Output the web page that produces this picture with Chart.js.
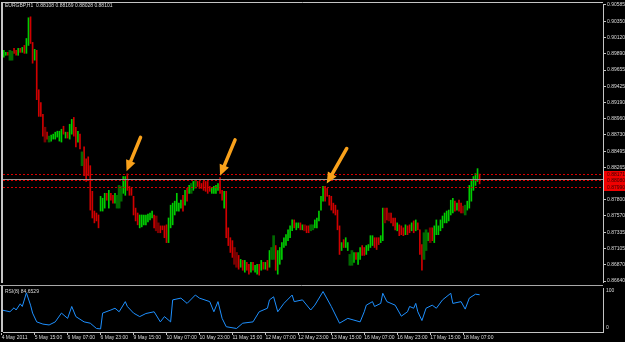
<!DOCTYPE html>
<html lang="en">
<head>
<meta charset="UTF-8">
<title>EURGBP,H1</title>
<script src="https://cdn.jsdelivr.net/npm/chart.js"></script>
<style>
  html, body { margin: 0; padding: 0; background: #000; }
  #wrap { position: relative; width: 625px; height: 342px; overflow: hidden; background: #000; }
  canvas { position: absolute; left: 0; }
  #mainChart { top: 0; }
  #rsiChart { top: 286px; }
</style>
</head>
<body>
<div id="wrap">
  <canvas id="mainChart" width="625" height="286"></canvas>
  <canvas id="rsiChart" width="625" height="56"></canvas>
</div>
<script>
// H1 bars, bar 0 = 4 May 2011 23:00, so bar 1 is the first one drawn
const highs = [
  0.89937, 0.89908, 0.89908, 0.89937, 0.89923, 0.89965, 0.89937, 0.89965, 0.89965, 0.89979,
  0.90007, 0.90106, 0.90402, 0.90416, 0.90050, 0.89951, 0.89937, 0.89373, 0.89190, 0.89021,
  0.88838, 0.88767, 0.88711, 0.88725, 0.88739, 0.88767, 0.88781, 0.88781, 0.88809, 0.88852,
  0.88767, 0.88767, 0.88880, 0.88950, 0.88978, 0.88838, 0.88781, 0.88739, 0.88485, 0.88556,
  0.88387, 0.88415, 0.88288, 0.87922, 0.87640, 0.87612, 0.87584, 0.87851, 0.87823, 0.87893,
  0.87893, 0.87936, 0.87893, 0.87865, 0.87893, 0.87865, 0.88006, 0.87992, 0.88133, 0.88133,
  0.88172, 0.87992, 0.87964, 0.87851, 0.87682, 0.87612, 0.87584, 0.87584, 0.87584, 0.87584,
  0.87598, 0.87612, 0.87640, 0.87584, 0.87569, 0.87471, 0.87428, 0.87428, 0.87428, 0.87443,
  0.87541, 0.87724, 0.87753, 0.87781, 0.87893, 0.87753, 0.87795, 0.87865, 0.87936, 0.87964,
  0.88006, 0.88034, 0.88063, 0.88077, 0.88063, 0.88063, 0.88034, 0.88063, 0.88063, 0.88063,
  0.87992, 0.87964, 0.87992, 0.88006, 0.88034, 0.88119, 0.87936, 0.87922, 0.87922, 0.87400,
  0.87259, 0.87217, 0.87119, 0.87048, 0.87006, 0.86949, 0.86935, 0.86935, 0.86907, 0.86879,
  0.86907, 0.86907, 0.86865, 0.86879, 0.86879, 0.86935, 0.86907, 0.86907, 0.86935, 0.87076,
  0.87119, 0.87288, 0.87147, 0.87076, 0.87119, 0.87189, 0.87259, 0.87302, 0.87372, 0.87428,
  0.87513, 0.87513, 0.87471, 0.87471, 0.87471, 0.87443, 0.87443, 0.87428, 0.87428, 0.87443,
  0.87443, 0.87513, 0.87541, 0.87640, 0.87851, 0.87992, 0.87992, 0.87964, 0.87865, 0.87851,
  0.87753, 0.87724, 0.87654, 0.87428, 0.87189, 0.87231, 0.87259, 0.87189, 0.87020, 0.87076,
  0.87048, 0.87048, 0.87048, 0.87119, 0.87147, 0.87119, 0.87147, 0.87161, 0.87288, 0.87288,
  0.87259, 0.87259, 0.87259, 0.87288, 0.87682, 0.87682, 0.87682, 0.87612, 0.87612, 0.87541,
  0.87541, 0.87471, 0.87443, 0.87428, 0.87400, 0.87443, 0.87428, 0.87443, 0.87471, 0.87499,
  0.87513, 0.87471, 0.87372, 0.87161, 0.87330, 0.87372, 0.87330, 0.87400, 0.87400, 0.87428,
  0.87513, 0.87428, 0.87513, 0.87569, 0.87612, 0.87640, 0.87654, 0.87795, 0.87823, 0.87781,
  0.87753, 0.87795, 0.87753, 0.87710, 0.87724, 0.87781, 0.88006, 0.88077, 0.88133, 0.88175,
  0.88246, 0.88169
];
const lows = [
  0.89838, 0.89866, 0.89866, 0.89796, 0.89796, 0.89894, 0.89866, 0.89866, 0.89908, 0.89908,
  0.89894, 0.89894, 0.90007, 0.90035, 0.89753, 0.89796, 0.89232, 0.88993, 0.88993, 0.88711,
  0.88626, 0.88668, 0.88626, 0.88640, 0.88668, 0.88668, 0.88697, 0.88640, 0.88626, 0.88739,
  0.88683, 0.88683, 0.88668, 0.88739, 0.88711, 0.88556, 0.88626, 0.88528, 0.88288, 0.88147,
  0.88063, 0.88147, 0.87654, 0.87541, 0.87471, 0.87499, 0.87400, 0.87640, 0.87640, 0.87682,
  0.87795, 0.87682, 0.87795, 0.87753, 0.87753, 0.87682, 0.87682, 0.87781, 0.87893, 0.87865,
  0.87936, 0.87865, 0.87865, 0.87584, 0.87499, 0.87443, 0.87400, 0.87414, 0.87443, 0.87443,
  0.87485, 0.87513, 0.87541, 0.87400, 0.87358, 0.87330, 0.87330, 0.87372, 0.87259, 0.87189,
  0.87189, 0.87400, 0.87443, 0.87584, 0.87640, 0.87640, 0.87682, 0.87640, 0.87724, 0.87781,
  0.87893, 0.87893, 0.87936, 0.87964, 0.87992, 0.87964, 0.87964, 0.87936, 0.87922, 0.87893,
  0.87922, 0.87893, 0.87893, 0.87893, 0.87936, 0.87893, 0.87795, 0.87682, 0.87259, 0.87147,
  0.87048, 0.86978, 0.86879, 0.86837, 0.86809, 0.86837, 0.86794, 0.86766, 0.86794, 0.86738,
  0.86766, 0.86794, 0.86766, 0.86738, 0.86724, 0.86794, 0.86809, 0.86809, 0.86794, 0.86837,
  0.86949, 0.86949, 0.86794, 0.86738, 0.86879, 0.86949, 0.87119, 0.87147, 0.87217, 0.87259,
  0.87358, 0.87400, 0.87372, 0.87400, 0.87372, 0.87372, 0.87358, 0.87330, 0.87330, 0.87358,
  0.87372, 0.87400, 0.87400, 0.87499, 0.87654, 0.87781, 0.87781, 0.87851, 0.87724, 0.87654,
  0.87612, 0.87584, 0.87372, 0.87020, 0.87076, 0.87119, 0.87119, 0.87076, 0.86865, 0.86865,
  0.86907, 0.86949, 0.86879, 0.86949, 0.87006, 0.87006, 0.87020, 0.87076, 0.87119, 0.87147,
  0.87119, 0.87090, 0.87161, 0.87189, 0.87217, 0.87471, 0.87513, 0.87499, 0.87471, 0.87428,
  0.87372, 0.87358, 0.87288, 0.87302, 0.87288, 0.87302, 0.87302, 0.87330, 0.87358, 0.87330,
  0.87358, 0.87372, 0.87020, 0.86794, 0.86949, 0.87076, 0.87217, 0.87189, 0.87217, 0.87189,
  0.87302, 0.87302, 0.87358, 0.87400, 0.87471, 0.87471, 0.87499, 0.87584, 0.87612, 0.87640,
  0.87654, 0.87640, 0.87612, 0.87612, 0.87584, 0.87654, 0.87682, 0.87781, 0.87936, 0.88006,
  0.88063, 0.88028
];
// g up bar, r down bar, G / R the darker heavy bars
const barKind = [
  'ggrGGrrgrg', 'rggrrgrrrr', 'RrGggggggr', 'grggrrgrGr', 'rrrrrrrggg',
  'rgrrgGGGgg', 'rrrrrrgggg', 'gggrRRrrrr', 'gggggggrgr', 'gGgGrrrrrr',
  'rggggrrgrr', 'rrRRrgrgrr', 'grggrgrgrg', 'GGrggggggg', 'grggrgRrrG',
  'Ggggggrrrr', 'rrrrgrggGG', 'grggrrgggg', 'rrrggRrRrr', 'rgrrrgrrgr',
  'grrrGGgRrg', 'gggggggggr', 'grrRGggggg', 'gr'
].join('');

// RSI(8), at a selection of bars
const rsiBar = [
  0, 4, 6, 7, 9, 10, 12, 14, 15, 17,
  20, 23, 26, 29, 32, 34, 36, 40, 43, 46,
  48, 49, 53, 55, 57, 60, 61, 64, 67, 70,
  74, 77, 79, 82, 83, 87, 90, 94, 96, 101,
  103, 105, 107, 109, 114, 117, 122, 125, 129, 130,
  132, 134, 137, 141, 142, 146, 150, 152, 156, 160,
  164, 168, 171, 174, 176, 177, 180, 181, 184, 185,
  187, 189, 191, 194, 197, 198, 200, 201, 202, 204,
  206, 209, 211, 214, 218, 219, 223, 225, 227, 230,
  232
];
const rsiVal = [
  50, 46, 55, 50, 64, 58, 89, 61, 43, 23,
  18, 16, 23, 43, 31, 58, 35, 23, 20, 8,
  7, 43, 50, 54, 46, 69, 58, 43, 35, 42,
  46, 23, 35, 23, 73, 77, 65, 84, 77, 69,
  46, 69, 31, 12, 8, 20, 23, 46, 54, 73,
  80, 46, 65, 84, 69, 73, 50, 61, 92, 58,
  20, 31, 27, 23, 46, 61, 69, 58, 65, 88,
  69, 65, 61, 36, 46, 58, 54, 65, 46, 26,
  54, 61, 54, 73, 88, 65, 69, 52, 77, 86,
  84.65
];

const timeLabels = ['4 May 2011', '5 May 15:00', '6 May 07:00', '6 May 23:00', '9 May 15:00',
  '10 May 07:00', '10 May 23:00', '11 May 15:00', '12 May 07:00', '12 May 23:00',
  '13 May 15:00', '16 May 07:00', '16 May 23:00', '17 May 15:00', '18 May 07:00'];
const tickBars = [0, 16, 32, 48, 64, 80, 96, 112, 128, 144, 160, 176, 192, 208, 224];

const priceTicks = [0.90585, 0.90350, 0.90120, 0.89890, 0.89655, 0.89425, 0.89190, 0.88960,
  0.88730, 0.88495, 0.88265, 0.87800, 0.87570, 0.87335, 0.87105, 0.86870, 0.86640];

const symbol = 'EURGBP,H1';
const lastOHLC = [0.88108, 0.88169, 0.88028, 0.88101];
const bidPrice = 0.88101;
const levels = [0.88171, 0.88080, 0.87990];
// arrow tips: bar index and price
const arrowBar = [60.6, 106, 157.8];
const arrowPrice = [0.88207, 0.88143, 0.88034];
const rsiName = 'RSI(8)';
const rsiLast = 84.6529;

// visible range
const xMin = 0.63, xMax = 291.9;
const yMin = 0.86626, yMax = 0.90599;

const FONT = '"Liberation Sans", Arial, sans-serif';
const TXT = '#dcdcdc';
const FRAME = '#c4c4c4';
const kindColor = { g: '#00cc00', r: '#d00000', G: '#006a00', R: '#7a0000' };
const arrowTail = [[14, -34], [15, -36], [20, -35]];

Chart.defaults.font.family = FONT;

const thinBars = [], heavyBars = [];
highs.forEach((h, i) => {
  const k = barKind[i] || 'g';
  const pt = { x: i + 1, y: [lows[i], h], k: k };
  if (k === 'G' || k === 'R') heavyBars.push(pt); else thinBars.push(pt);
});

function drawArrow(ctx, tx, ty, dx, dy) {
  const sx = tx + dx, sy = ty + dy;
  const len = Math.hypot(dx, dy);
  const ux = -dx / len, uy = -dy / len;
  const headLen = 11, half = 5;
  const bx = tx - ux * headLen, by = ty - uy * headLen;
  ctx.strokeStyle = '#f9a11b';
  ctx.fillStyle = '#f9a11b';
  ctx.lineWidth = 3.5;
  ctx.lineCap = 'round';
  ctx.beginPath();
  ctx.moveTo(sx, sy);
  ctx.lineTo(bx + ux, by + uy);
  ctx.stroke();
  ctx.beginPath();
  ctx.moveTo(tx, ty);
  ctx.lineTo(bx - uy * half, by + ux * half);
  ctx.lineTo(bx + uy * half, by - ux * half);
  ctx.closePath();
  ctx.fill();
}

const mainDecor = {
  id: 'mainDecor',
  afterDatasetsDraw(chart) {
    const { ctx, chartArea: a, scales: { x, y } } = chart;
    ctx.save();
    ctx.lineWidth = 1;
    // bid line
    let py = Math.round(y.getPixelForValue(bidPrice)) + 0.5;
    ctx.strokeStyle = '#9a9a9a';
    ctx.beginPath(); ctx.moveTo(a.left, py); ctx.lineTo(a.right, py); ctx.stroke();
    // red dotted levels
    ctx.strokeStyle = '#d80000';
    ctx.setLineDash([2, 2]);
    levels.forEach(v => {
      const ly = Math.round(y.getPixelForValue(v)) + 0.5;
      ctx.beginPath(); ctx.moveTo(a.left, ly); ctx.lineTo(a.right, ly); ctx.stroke();
    });
    ctx.setLineDash([]);
    // arrows
    arrowBar.forEach((b, i) => {
      drawArrow(ctx, x.getPixelForValue(b), y.getPixelForValue(arrowPrice[i]), arrowTail[i][0], arrowTail[i][1]);
    });
    ctx.restore();
  },
  afterDraw(chart) {
    const { ctx, chartArea: a, scales: { y } } = chart;
    ctx.save();
    // frame
    ctx.strokeStyle = FRAME;
    ctx.lineWidth = 1;
    ctx.beginPath(); ctx.moveTo(2, 2.5); ctx.lineTo(a.right, 2.5); ctx.stroke();
    ctx.lineWidth = 2;
    ctx.beginPath(); ctx.moveTo(2, 2); ctx.lineTo(2, a.bottom + 1); ctx.stroke();
    ctx.lineWidth = 1;
    ctx.strokeStyle = '#a8a8a8';
    ctx.beginPath(); ctx.moveTo(0, 285.5); ctx.lineTo(a.right, 285.5); ctx.stroke();
    // header
    ctx.font = '5px ' + FONT;
    ctx.fillStyle = TXT;
    ctx.textBaseline = 'middle';
    ctx.textAlign = 'left';
    ctx.fillText(symbol + '  ' + lastOHLC.map(v => v.toFixed(5)).join(' '), 5, 6);
    // level price boxes on the axis
    levels.forEach(v => {
      const ly = Math.round(y.getPixelForValue(v));
      ctx.fillStyle = '#f00000';
      ctx.fillRect(a.right + 1, ly - 3, 625 - a.right - 1, 7);
      ctx.fillStyle = '#3a0000';
      ctx.fillText(v.toFixed(5), a.right + 4, ly + 0.5);
    });
    ctx.restore();
  }
};

const rsiDecor = {
  id: 'rsiDecor',
  afterDraw(chart) {
    const { ctx, chartArea: a, scales: { y } } = chart;
    ctx.save();
    ctx.strokeStyle = FRAME;
    ctx.lineWidth = 2;
    ctx.beginPath(); ctx.moveTo(2, 0); ctx.lineTo(2, a.bottom); ctx.stroke();
    ctx.font = '5px ' + FONT;
    ctx.fillStyle = TXT;
    ctx.textBaseline = 'middle';
    ctx.textAlign = 'left';
    ctx.fillText(rsiName + ' ' + rsiLast.toFixed(4), 5, 6);
    ctx.fillText('100', a.right + 3, y.getPixelForValue(100) + 3);
    ctx.fillText('0', a.right + 3, y.getPixelForValue(0) - 4);
    ctx.restore();
  }
};

const axisFont = { size: 5, family: FONT };

new Chart(document.getElementById('mainChart'), {
  type: 'bar',
  data: {
    datasets: [
      {
        data: heavyBars,
        backgroundColor: c => (c.raw ? kindColor[c.raw.k] : '#006a00'),
        barThickness: 2,
        grouped: false,
        borderWidth: 0,
        borderSkipped: false
      },
      {
        data: thinBars,
        backgroundColor: c => (c.raw ? kindColor[c.raw.k] : '#00cc00'),
        barThickness: 1,
        grouped: false,
        borderWidth: 0,
        borderSkipped: false
      }
    ]
  },
  options: {
    responsive: false,
    animation: false,
    devicePixelRatio: 1,
    layout: { padding: { left: 3, top: 3, right: 0, bottom: 1 } },
    plugins: { legend: { display: false }, tooltip: { enabled: false } },
    scales: {
      x: { type: 'linear', min: xMin, max: xMax, display: false, offset: false, grid: { offset: false } },
      y: {
        position: 'right',
        min: yMin,
        max: yMax,
        afterFit: s => { s.width = 22; },
        afterBuildTicks: s => { s.ticks = priceTicks.map(v => ({ value: v })); },
        ticks: { callback: v => v.toFixed(5), font: axisFont, color: TXT, padding: 1, autoSkip: false },
        grid: { drawOnChartArea: false, tickLength: 3, color: FRAME },
        border: { color: FRAME }
      }
    }
  },
  plugins: [mainDecor]
});

new Chart(document.getElementById('rsiChart'), {
  type: 'line',
  data: {
    datasets: [{
      data: rsiBar.map((b, i) => ({ x: b, y: rsiVal[i] })),
      borderColor: '#1e90ff',
      borderWidth: 1,
      pointRadius: 0,
      tension: 0
    }]
  },
  options: {
    responsive: false,
    animation: false,
    devicePixelRatio: 1,
    layout: { padding: { left: 3, top: 2, right: 0, bottom: 0 } },
    plugins: { legend: { display: false }, tooltip: { enabled: false } },
    scales: {
      x: {
        type: 'linear',
        min: xMin,
        max: xMax,
        offset: false,
        afterFit: s => { s.height = 10; },
        afterBuildTicks: s => { s.ticks = tickBars.map(v => ({ value: v })); },
        ticks: {
          autoSkip: false, maxRotation: 0, minRotation: 0, align: 'start', padding: 0,
          callback: (v, i) => timeLabels[i], font: axisFont, color: TXT
        },
        grid: { drawOnChartArea: false, tickLength: 3, color: FRAME },
        border: { color: FRAME }
      },
      y: {
        position: 'right',
        min: 0,
        max: 100,
        afterFit: s => { s.width = 22; },
        ticks: { display: false },
        grid: { display: false },
        border: { display: true, color: FRAME }
      }
    }
  },
  plugins: [rsiDecor]
});
</script>
</body>
</html>
